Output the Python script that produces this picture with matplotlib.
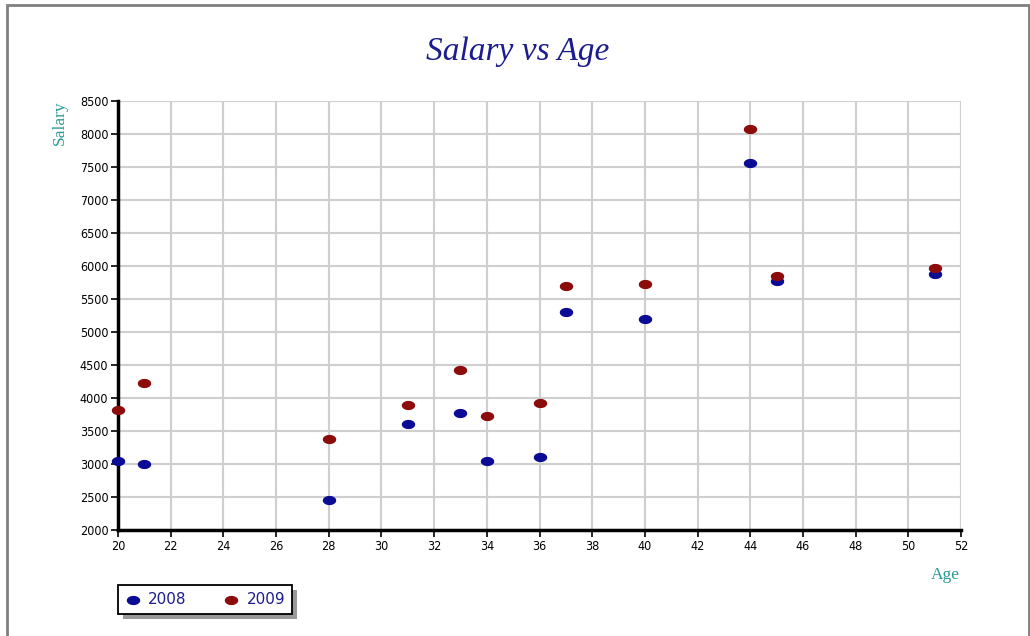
import matplotlib
matplotlib.use("Agg")
import matplotlib.pyplot as plt
from matplotlib.patches import Rectangle
from matplotlib.path import Path
from matplotlib.transforms import IdentityTransform
import numpy as np

# Employee ages and salaries for two years
ages = [20, 21, 28, 31, 33, 34, 36, 37, 40, 44, 45, 51]
salary_2008 = [3050, 3000, 2450, 3600, 3780, 3050, 3100, 5300, 5200, 7560, 5780, 5880]
salary_2009 = [3820, 4220, 3380, 3900, 4420, 3730, 3920, 5690, 5730, 8080, 5850, 5970]
series_labels = ["2008", "2009"]

x_ticks = list(range(20, 53, 2))
y_ticks = list(range(2000, 8501, 500))

BLUE = "#0b0b96"
RED = "#8c0b0b"
NAVY = "#1c1c8c"
TEAL = "#2a9a96"

# flattened ellipse marker
t = np.linspace(0, 2 * np.pi, 40)
ellipse = Path(np.column_stack([np.cos(t), 0.65 * np.sin(t)]), closed=True)

fig = plt.figure(figsize=(10.30, 6.36), dpi=100)
fig.patch.set_facecolor("white")

# outer frame
fig.add_artist(Rectangle((7 / 1030, -0.05), (1029 - 7) / 1030, 1.05 - 5 / 636,
                         transform=fig.transFigure, fill=False,
                         edgecolor="#808080", linewidth=2))

ax = fig.add_axes([118 / 1030, 1 - 530 / 636, (961 - 118) / 1030, (530 - 101) / 636])
ax.set_xlim(20, 52)
ax.set_ylim(2000, 8500)
ax.set_xticks(x_ticks)
ax.set_yticks(y_ticks)
ax.grid(True, color="#cfcfcf", linewidth=1.5)
ax.set_axisbelow(True)

for side in ("top", "right"):
    ax.spines[side].set_visible(False)
for side in ("left", "bottom"):
    ax.spines[side].set_linewidth(2.5)
    ax.spines[side].set_color("black")
ax.tick_params(axis="both", direction="out", length=5, width=1.2, colors="black",
               labelsize=9, pad=2)
for lab in ax.get_xticklabels() + ax.get_yticklabels():
    lab.set_family("DejaVu Sans")
    lab.set_fontstretch("condensed")

ax.scatter(ages, salary_2008, marker=ellipse, s=75, color=BLUE, zorder=3,
           clip_on=False, label=series_labels[0])
ax.scatter(ages, salary_2009, marker=ellipse, s=75, color=RED, zorder=3,
           clip_on=False, label=series_labels[1])

fig.text(518 / 1030, 1 - 52 / 636, "Salary vs Age", ha="center", va="center",
         fontsize=24, style="italic", family="Liberation Serif", color=NAVY)
fig.text(60 / 1030, 1 - 123 / 636, "Salary", rotation=90, ha="center", va="center",
         fontsize=12.5, family="Liberation Serif", color=TEAL)
fig.text(945 / 1030, 1 - 575 / 636, "Age", ha="center", va="center",
         fontsize=12.5, family="Liberation Serif", color=TEAL)

leg = ax.legend(loc="upper left",
                bbox_to_anchor=(118 / 1030, 1 - 612 / 636, 174 / 1030, 27 / 636),
                bbox_transform=fig.transFigure, mode="expand", ncol=2, frameon=True,
                fancybox=False, edgecolor="black", framealpha=1, borderaxespad=0,
                handletextpad=0.5, columnspacing=1.0, handlelength=1.0, borderpad=0.45,
                prop={"family": "DejaVu Sans", "size": 11})
leg.get_frame().set_linewidth(1.3)
leg.set_zorder(10)
for txt in leg.get_texts():
    txt.set_color(NAVY)

# drop shadow behind the legend box
fig.canvas.draw()
bb = leg.get_window_extent()
shadow = Rectangle((bb.x0 + 5, bb.y0 - 5), bb.width, bb.height,
                   facecolor="#999999", edgecolor="none", zorder=9, clip_on=False)
shadow.set_transform(IdentityTransform())
ax.add_artist(shadow)

fig.savefig("out.png", dpi=100, facecolor="white")
